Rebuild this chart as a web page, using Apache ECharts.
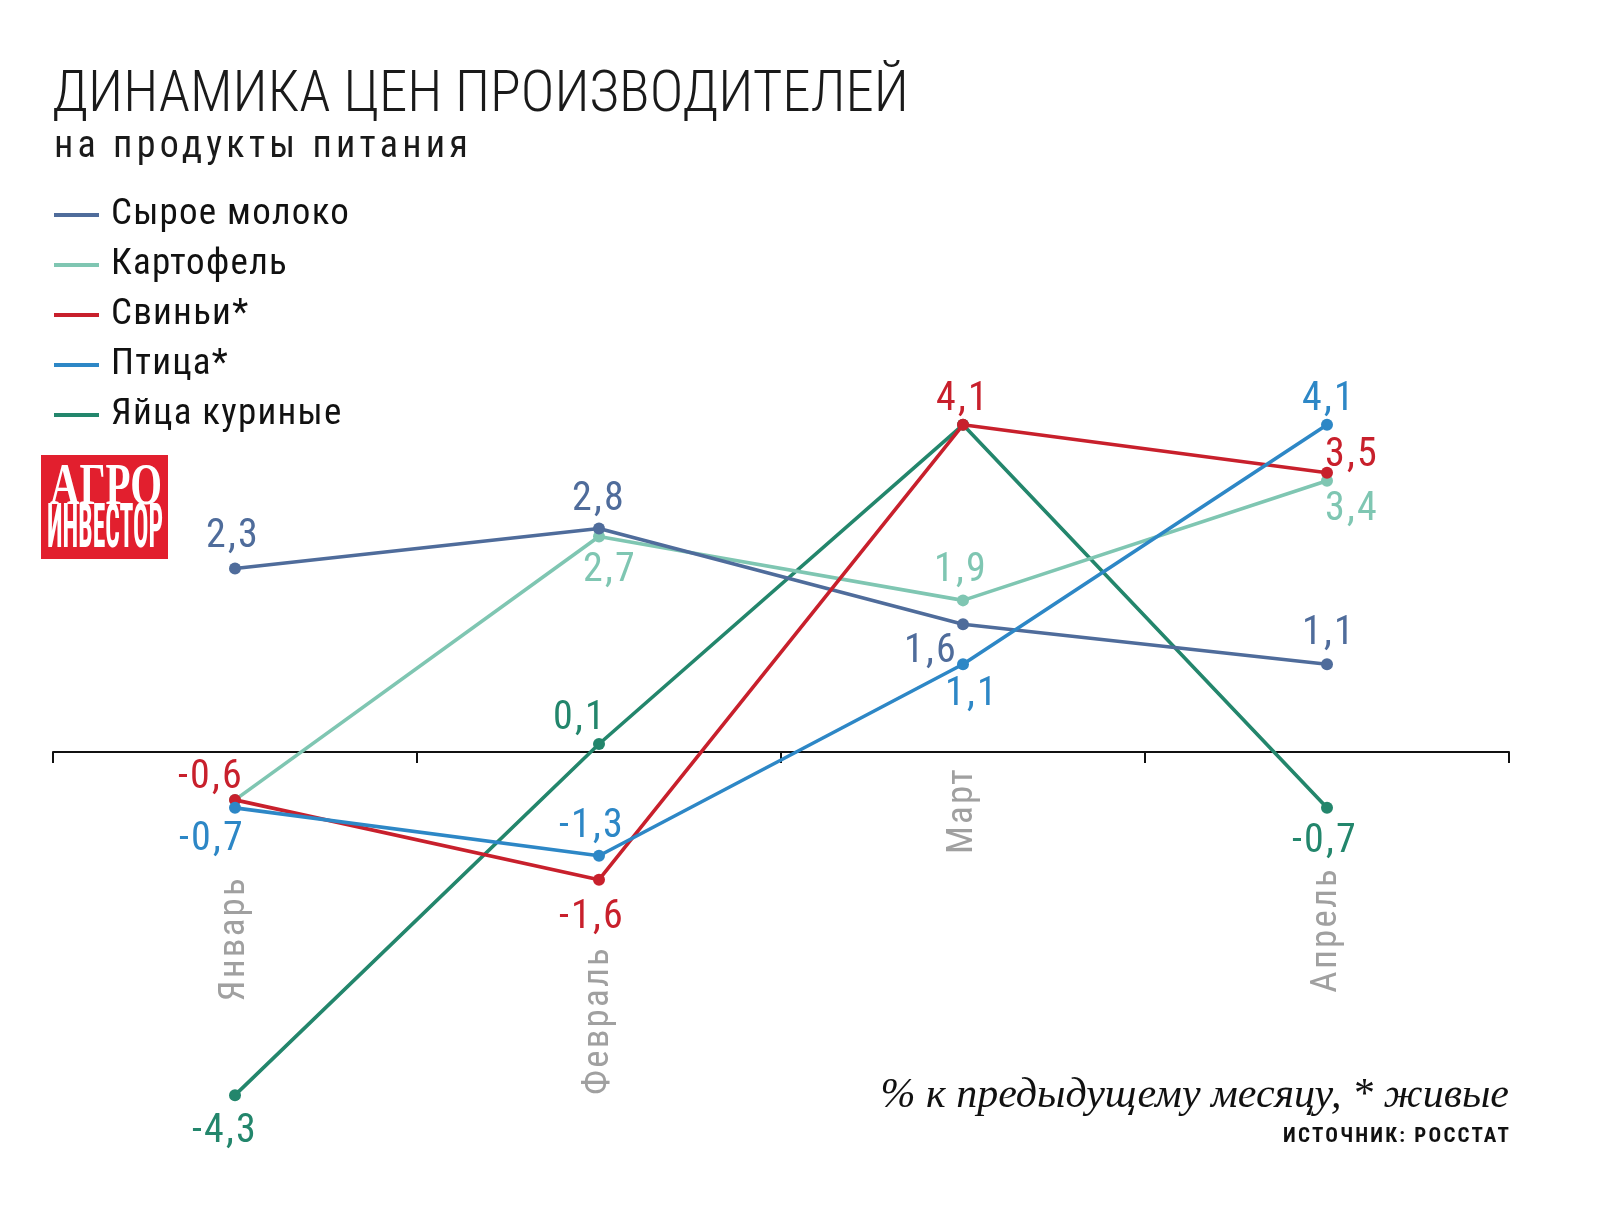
<!DOCTYPE html>
<html><head><meta charset="utf-8">
<script src="https://cdn.jsdelivr.net/npm/echarts@6/dist/echarts.min.js"></script>
<style>html,body{margin:0;padding:0;background:#fff}#c{width:1620px;height:1230px}</style>
</head><body><div id="c"></div>
<script>
// ---- data ----
const months = ['Январь', 'Февраль', 'Март', 'Апрель'];
const seriesNames = ['Сырое молоко', 'Картофель', 'Свиньи*', 'Птица*', 'Яйца куриные'];
const milk = [2.3, 2.8, 1.6, 1.1];
const potato = [-0.6, 2.7, 1.9, 3.4];
const pigs = [-0.6, -1.6, 4.1, 3.5];
const poultry = [-0.7, -1.3, 1.1, 4.1];
const eggs = [-4.3, 0.1, 4.1, -0.7];
const titleText = 'ДИНАМИКА ЦЕН ПРОИЗВОДИТЕЛЕЙ';
const subtitleText = 'на продукты питания';
const noteText = '% к предыдущему месяцу, * живые';
const sourceText = 'ИСТОЧНИК: РОССТАТ';
const logoTop = 'АГРО';
const logoBottom = 'ИНВЕСТОР';

// ---- styles ----
const NARROW = "'Roboto Condensed', 'Liberation Sans Narrow', sans-serif";
const colors = ['#4f6c9b', '#7fc6b2', '#c8202c', '#2d87c6', '#23866c'];
const zOrder = [4, 3, 5, 6, 2];
const labelOffsets = [
  [[-2, -31], [0, -29], [-32, 28], [2, -30]],
  [null, [11, 34], [-2, -29], [25, 29]],
  [[-24, -22], [-7, 38], [0, -25], [25, -17]],
  [[-23, 32], [-7, -29], [9, 31], [2, -25]],
  [[-10, 37], [-19, -25], null, [-2, 34]]
];
const monthPad = [109, 179, 0, 100];
const allValues = [milk, potato, pigs, poultry, eggs];

function measure(font, txt) {
  const ctx = document.createElement('canvas').getContext('2d');
  ctx.font = font;
  return ctx.measureText(txt).width;
}
const titleFont = { size: 57, weight: 300 };
const subFont = { size: 38, weight: 'normal' };
const legendFont = { size: 37 };
const sourceFont = "bold 21px " + NARROW;

// letter spacing (canvas letterSpacing) to match the reference text widths
const letterSpacing = {};
const fitSpacing = (txt, font, width) => ((width - measure(font, txt)) / txt.length).toFixed(2) + 'px';
letterSpacing[titleText] = fitSpacing(titleText, titleFont.weight + ' ' + titleFont.size + 'px ' + NARROW, 857);
letterSpacing[subtitleText] = fitSpacing(subtitleText, subFont.size + 'px ' + NARROW, 418);
letterSpacing[sourceText] = fitSpacing(sourceText, sourceFont, 228);
const legendLS = fitSpacing(seriesNames[0], legendFont.size + 'px ' + NARROW, 239);
seriesNames.forEach(n => { letterSpacing[n] = legendLS; });

const origFill = CanvasRenderingContext2D.prototype.fillText;
CanvasRenderingContext2D.prototype.fillText = function (t) {
  const ls = letterSpacing[t];
  if (ls && 'letterSpacing' in this) {
    const prev = this.letterSpacing;
    this.letterSpacing = ls;
    origFill.apply(this, arguments);
    this.letterSpacing = prev;
    return;
  }
  return origFill.apply(this, arguments);
};

const logoTopFont = "bold 60px 'Liberation Serif', serif";
const logoBotFont = "bold 62px " + NARROW;
const logoTopScale = 112 / measure(logoTopFont, logoTop);
const logoBotScale = 116 / measure(logoBotFont, logoBottom);

const fmt = v => v.toFixed(1).replace('.', ',');

const series = seriesNames.map((name, si) => ({
  name: name,
  type: 'line',
  z: zOrder[si],
  clip: false,
  symbol: 'circle',
  symbolSize: 12,
  lineStyle: { width: 3.6, color: colors[si] },
  itemStyle: { color: colors[si] },
  emphasis: { disabled: true },
  label: {
    show: true,
    position: 'inside',
    color: colors[si],
    fontFamily: NARROW,
    fontWeight: 'normal',
    fontSize: 40,
    formatter: p => fmt(p.value)
  },
  data: allValues[si].map((v, i) => {
    const off = labelOffsets[si][i];
    return off ? { value: v, label: { offset: off } } : { value: v, label: { show: false } };
  })
}));

const chart = echarts.init(document.getElementById('c'), null, { renderer: 'canvas' });
chart.setOption({
  backgroundColor: '#ffffff',
  animation: false,
  color: colors,
  title: [
    { text: titleText, left: 52, top: 68, padding: 0,
      textStyle: { fontFamily: NARROW, fontSize: titleFont.size, fontWeight: titleFont.weight, color: '#1a1a1a' } },
    { text: subtitleText, left: 54, top: 128, padding: 0,
      textStyle: { fontFamily: NARROW, fontSize: subFont.size, fontWeight: subFont.weight, color: '#1a1a1a' } }
  ],
  legend: {
    orient: 'vertical',
    left: 54,
    top: 196,
    padding: 0,
    itemWidth: 45,
    itemHeight: 4,
    itemGap: 12,
    icon: 'rect',
    data: seriesNames,
    textStyle: { fontFamily: NARROW, fontSize: legendFont.size, color: '#111', lineHeight: 38, padding: [0, 0, 0, 7] }
  },
  grid: { left: 53, right: 111, top: 353, bottom: 478, containLabel: false, outerBoundsMode: 'none' },
  xAxis: {
    type: 'category',
    boundaryGap: true,
    data: months.map((m, i) => ({ value: m, textStyle: { padding: [0, monthPad[i], 0, 0] } })),
    axisLine: { show: true, onZero: false, lineStyle: { color: '#111', width: 2 } },
    axisTick: { show: true, length: 11, lineStyle: { color: '#111', width: 2 } },
    axisLabel: { rotate: 90, margin: 15, color: '#a0a0a0', fontFamily: NARROW, fontWeight: 'normal', fontSize: 37 },
    splitLine: { show: false }
  },
  yAxis: {
    type: 'value', min: 0, max: 5, interval: 1,
    show: false, splitLine: { show: false }
  },
  graphic: [
    { type: 'rect', left: 41, top: 455, shape: { width: 127, height: 104 }, style: { fill: '#e21f2e' } },
    { type: 'text', x: 50, y: 458, scaleX: logoTopScale, style: { text: logoTop, fill: '#fff',
      font: logoTopFont, textAlign: 'left', textVerticalAlign: 'top' } },
    { type: 'text', x: 47, y: 500, scaleX: logoBotScale, style: { text: logoBottom, fill: '#fff',
      font: logoBotFont, textAlign: 'left', textVerticalAlign: 'top' } },
    { type: 'text', x: 1509, y: 1117, style: { text: noteText, fill: '#111',
      font: "italic 42px 'Liberation Serif', 'DejaVu Serif', serif", textAlign: 'right', textVerticalAlign: 'bottom' } },
    { type: 'text', x: 1511, y: 1137, style: { text: sourceText, fill: '#111',
      font: sourceFont, textAlign: 'right', textVerticalAlign: 'middle' } }
  ],
  series: series
});
</script>
</body></html>
